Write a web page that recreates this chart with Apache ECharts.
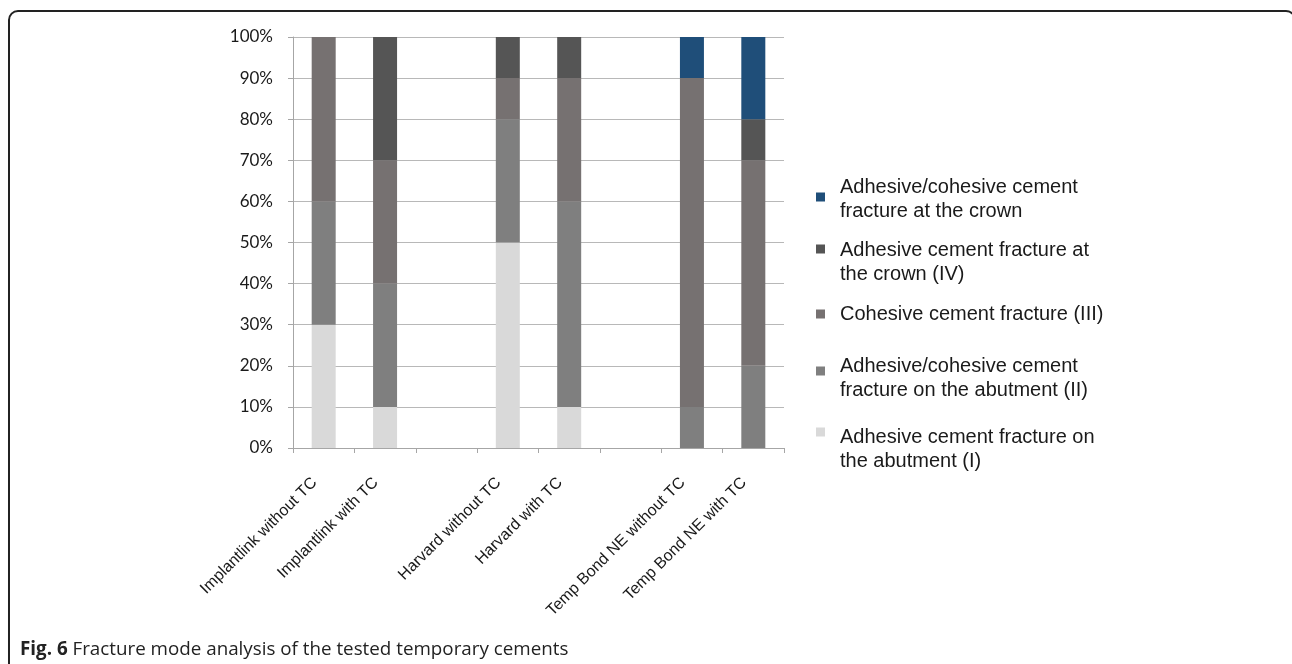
<!DOCTYPE html>
<html>
<head>
<meta charset="UTF-8">
<title>Fracture mode analysis</title>
<script src="https://cdn.jsdelivr.net/npm/echarts@6/dist/echarts.min.js"></script>
<style>
  html, body { margin: 0; padding: 0; background: #fff; }
  #main { width: 1292px; height: 664px; }
</style>
</head>
<body>
<div id="main"></div>
<script>
// categories (blank slots are the gaps between cement groups)
var categories = ['Implantlink without TC', 'Implantlink with TC', '', 'Harvard without TC', 'Harvard with TC', '', 'Temp Bond NE without TC', 'Temp Bond NE with TC'];

// percentages per fracture mode, bottom to top
var modeI   = [30, 10, 0, 50, 10, 0, 0, 0];
var modeII  = [30, 30, 0, 30, 50, 0, 10, 20];
var modeIII = [40, 30, 0, 10, 30, 0, 80, 50];
var modeIV  = [0, 30, 0, 10, 10, 0, 0, 10];
var modeV   = [0, 0, 0, 0, 0, 0, 10, 20];

var names = [
  'Adhesive cement fracture on\nthe abutment (I)',
  'Adhesive/cohesive cement\nfracture on the abutment (II)',
  'Cohesive cement fracture (III)',
  'Adhesive cement fracture at\nthe crown (IV)',
  'Adhesive/cohesive cement\nfracture at the crown'
];
var colors = ['#d9d9d9', '#7f7f7f', '#767171', '#555555', '#1f4e79'];
var values = [modeI, modeII, modeIII, modeIV, modeV];

var series = values.map(function (v, i) {
  return {
    name: names[i],
    type: 'bar',
    stack: 'total',
    barWidth: 24,
    itemStyle: { color: colors[i] },
    data: v
  };
});

// one legend per entry so the spacing matches the original;
// a spacer line on top moves the text against its square
var legendTop = [407, 346, 304, 224, 172];
var spacer = [34, 14, 0, 26, 4];
var legends = names.map(function (n, i) {
  return {
    data: [n],
    orient: 'vertical',
    left: 816,
    top: legendTop[i],
    padding: 0,
    icon: 'rect',
    itemWidth: 9,
    itemHeight: 9,
    selectedMode: false,
    formatter: function (name) {
      var out = name.split('\n').map(function (l) { return '{t|' + l + '}'; }).join('\n');
      return spacer[i] ? '{s| }\n' + out : out;
    },
    textStyle: {
      fontFamily: 'Liberation Sans',
      fontSize: 20,
      color: '#1a1a1a',
      rich: {
        s: { fontSize: 2, lineHeight: spacer[i] || 1 },
        t: { fontFamily: 'Liberation Sans', fontSize: 20, lineHeight: 24, color: '#1a1a1a', padding: [0, 0, 0, 10] }
      }
    }
  };
});

var myChart = echarts.init(document.getElementById('main'));
var option = {
  animation: false,
  backgroundColor: '#fff',
  grid: { left: 293, right: 508, top: 37, bottom: 216 },
  legend: legends,
  xAxis: {
    type: 'category',
    data: categories,
    axisLine: { lineStyle: { color: '#a6a6a6' } },
    axisTick: { show: true, alignWithLabel: false, interval: 0, length: 5, lineStyle: { color: '#a6a6a6' } },
    axisLabel: {
      interval: 0,
      rotate: 45,
      margin: 23,
      padding: [0, 13, 0, 0],
      fontFamily: 'Liberation Sans',
      fontSize: 16,
      color: '#1a1a1a'
    }
  },
  yAxis: {
    type: 'value',
    min: 0,
    max: 100,
    interval: 10,
    axisLine: { show: true, lineStyle: { color: '#a6a6a6' } },
    axisTick: { show: true, length: 5, lineStyle: { color: '#a6a6a6' } },
    splitLine: { lineStyle: { color: '#b8b8b8' } },
    axisLabel: {
      formatter: '{value}%',
      margin: 20,
      fontFamily: 'Lato',
      fontSize: 17,
      color: '#1a1a1a'
    }
  },
  series: series,
  graphic: [
    {
      type: 'rect',
      shape: { x: 9, y: 11, width: 1286, height: 700, r: 9 },
      style: { fill: 'none', stroke: '#222', lineWidth: 2 },
      z: 100
    },
    {
      type: 'text',
      left: 20,
      top: 640,
      style: {
        text: '{b|Fig. 6} Fracture mode analysis of the tested temporary cements',
        fontFamily: 'Open Sans',
        fontSize: 18.8,
        fill: '#222',
        rich: {
          b: { fontFamily: 'Open Sans', fontSize: 18.8, fontWeight: 'bold', fill: '#222' }
        }
      }
    }
  ]
};
myChart.setOption(option);
</script>
</body>
</html>
